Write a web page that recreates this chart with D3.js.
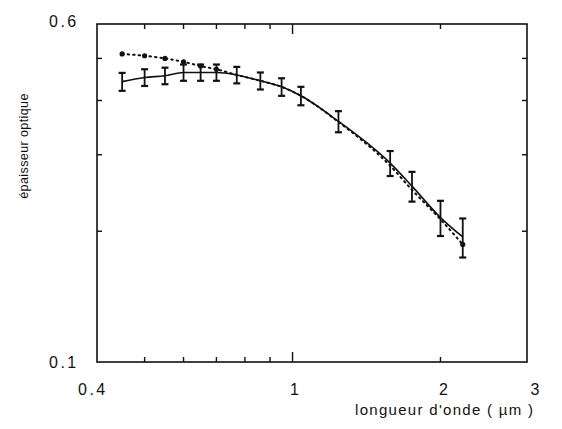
<!DOCTYPE html>
<html><head><meta charset="utf-8">
<script src="https://cdn.jsdelivr.net/npm/d3@7"></script>
<style>
html,body{margin:0;padding:0;background:#fff;}
svg{display:block;}
text{font-family:"Liberation Sans",Arial,sans-serif;fill:#111;}
</style></head>
<body>
<svg id="c" width="562" height="429"></svg>
<script>
// wavelength (µm)
const wavelengths = [0.45, 0.50, 0.55, 0.60, 0.65, 0.70, 0.77, 0.86, 0.95, 1.04, 1.24, 1.58, 1.75, 2.00, 2.22];
// measured optical thickness (solid line, with error bars)
const measured = [0.442, 0.452, 0.456, 0.464, 0.464, 0.464, 0.458, 0.444, 0.430, 0.410, 0.358, 0.287, 0.254, 0.215, 0.194];
const errors   = [0.021, 0.020, 0.020, 0.020, 0.020, 0.020, 0.020, 0.020, 0.020, 0.020, 0.020, 0.019, 0.020, 0.020, 0.020];
// model optical thickness (dotted line)
const model    = [0.512, 0.507, 0.500, 0.491, 0.480, 0.472, 0.458, 0.444, 0.430, 0.410, 0.357, 0.283, 0.249, 0.213, 0.1865];
const modelDots = [0, 1, 2, 3, 4, 5, 14];
const xTicksMinor = [0.5, 0.6, 0.7, 0.8, 0.9, 2];
const xTickMajor = [1];
const xLabels = ["0.4", "1", "2", "3"];
const xLabelVals = [0.4, 1, 2, 3];
const yTicksMinor = [0.2, 0.3, 0.4, 0.5];
const yLabels = ["0.1", "0.6"];
const yLabelVals = [0.1, 0.6];

const svg = d3.select("#c");
const L = 97, R = 527, T = 24, B = 362;
const x = d3.scaleLog().domain([0.4, 3]).range([L, R]);
const y = d3.scaleLog().domain([0.1, 0.6]).range([B, T]);

const g = svg.append("g");
// frame
g.append("rect").attr("x", L).attr("y", T).attr("width", R - L).attr("height", B - T)
  .attr("fill", "none").attr("stroke", "#111").attr("stroke-width", 1.6);

// x ticks (inward, top and bottom)
const xt = xTicksMinor.map(v => ({v, len: 5})).concat(xTickMajor.map(v => ({v, len: 10})));
xt.forEach(t => {
  g.append("line").attr("x1", x(t.v)).attr("x2", x(t.v)).attr("y1", B).attr("y2", B - t.len)
    .attr("stroke", "#111").attr("stroke-width", 1.4);
  g.append("line").attr("x1", x(t.v)).attr("x2", x(t.v)).attr("y1", T).attr("y2", T + t.len)
    .attr("stroke", "#111").attr("stroke-width", 1.4);
});
// y ticks (inward, left and right)
yTicksMinor.forEach(v => {
  g.append("line").attr("x1", L).attr("x2", L + 5).attr("y1", y(v)).attr("y2", y(v))
    .attr("stroke", "#111").attr("stroke-width", 1.4);
  g.append("line").attr("x1", R).attr("x2", R - 5).attr("y1", y(v)).attr("y2", y(v))
    .attr("stroke", "#111").attr("stroke-width", 1.4);
});

// tick labels
const xLabelShift = [-19, 2, 3, 8];
xLabels.forEach((s, i) => {
  g.append("text").attr("x", x(xLabelVals[i]) + xLabelShift[i]).attr("y", 395)
    .attr("text-anchor", i === 0 ? "start" : "middle")
    .attr("font-size", 16).attr("letter-spacing", i === 0 ? 2.5 : 0).text(s);
});
const yLabelShift = [6, 3];
yLabels.forEach((s, i) => {
  g.append("text").attr("x", 49).attr("y", y(yLabelVals[i]) + yLabelShift[i])
    .attr("font-size", 16).attr("letter-spacing", 2.5).text(s);
});

// axis titles
g.append("text").attr("x", 355).attr("y", 415).attr("font-size", 15).attr("letter-spacing", 1.3)
  .text("longueur d'onde ( µm )");
g.append("text").attr("transform", "translate(28,146) rotate(-90)").attr("text-anchor", "middle")
  .attr("font-size", 12.5).attr("letter-spacing", 0.4).text("épaisseur optique");

// model dotted line
const pts = wavelengths.map((w, i) => ({w, m: measured[i], e: errors[i], d: model[i]}));
const lineM = d3.line().x(d => x(d.w)).y(d => y(d.d)).curve(d3.curveMonotoneX);
g.append("path").attr("d", lineM(pts)).attr("fill", "none").attr("stroke", "#111")
  .attr("stroke-width", 2).attr("stroke-dasharray", "1.5,4").attr("stroke-linecap", "round");
modelDots.forEach(i => {
  g.append("circle").attr("cx", x(wavelengths[i])).attr("cy", y(model[i])).attr("r", 2.6).attr("fill", "#111");
});

// measured solid line
const lineS = d3.line().x(d => x(d.w)).y(d => y(d.m)).curve(d3.curveMonotoneX);
g.append("path").attr("d", lineS(pts)).attr("fill", "none").attr("stroke", "#111").attr("stroke-width", 1.6);

// error bars
pts.forEach(d => {
  const cx = x(d.w), y1 = y(d.m + d.e), y2 = y(d.m - d.e);
  g.append("line").attr("x1", cx).attr("x2", cx).attr("y1", y1).attr("y2", y2)
    .attr("stroke", "#111").attr("stroke-width", 1.8);
  [y1, y2].forEach(yy => {
    g.append("line").attr("x1", cx - 3.5).attr("x2", cx + 3.5).attr("y1", yy).attr("y2", yy)
      .attr("stroke", "#111").attr("stroke-width", 2.2);
  });
});
</script>
</body></html>
